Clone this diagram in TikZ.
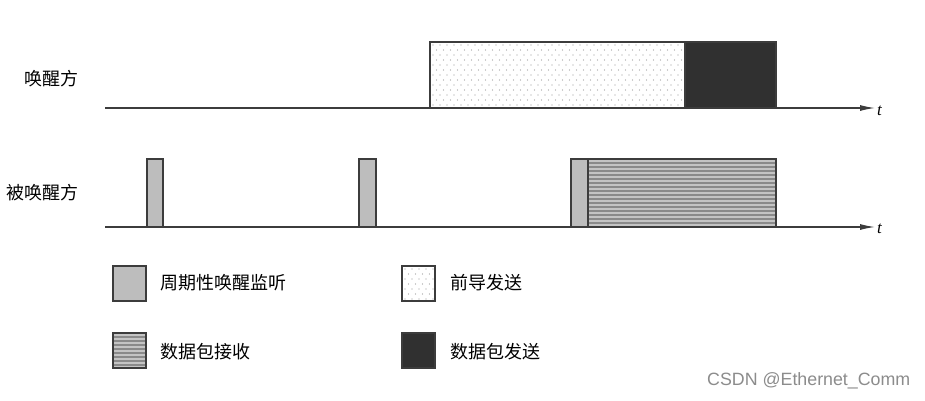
\documentclass[tikz,border=0pt]{standalone}
\usepackage{fontspec}
\setmainfont{Liberation Serif}
\newfontfamily\cjk{Noto Sans CJK SC}
\newfontfamily\wmfont{Liberation Sans}
\usetikzlibrary{arrows.meta}
\definecolor{edge}{HTML}{3C3C3C}
\definecolor{pulse}{HTML}{BDBDBD}
\definecolor{dark}{HTML}{303030}
\definecolor{stripebg}{HTML}{8A8A8A}
\definecolor{stripefg}{HTML}{C4C4C4}
\definecolor{dotc}{HTML}{9A9A9A}
\tikzset{
  box/.style={draw=edge, line width=1.6pt, inner sep=0pt, outer sep=0pt, anchor=north west},
  pulsebox/.style={box, fill=pulse},
  dotted fill/.style={fill=white, path picture={
      \foreach \r in {0,...,60}{
        \foreach \c in {0,...,40}{
          \pgfmathsetmacro{\xo}{mod(\r,2)*3.5}
          \fill[dotc] ([xshift=\c*7pt+\xo pt+3pt, yshift=-\r*5pt-3pt]path picture bounding box.north west) circle (0.6pt);
        }}}},
  striped fill/.style={fill=stripebg, path picture={
      \foreach \k in {0,...,50}
        \fill[stripefg] ([yshift=-\k*4pt-1pt]path picture bounding box.north west) rectangle ++(300pt,-1.7pt);
      }},
  preamblebox/.style={box, dotted fill},
  darkbox/.style={box, fill=dark},
  rxbox/.style={box, striped fill},
  axis/.style={line width=1.2pt, draw=edge, -{Latex[length=15pt,width=6pt]}},
  lbl/.style={font=\cjk\fontsize{18}{20}\selectfont, inner sep=0pt},
  tlbl/.style={font=\itshape\fontsize{17}{18}\selectfont, inner sep=0pt, anchor=west},
  legsq/.style={box, line width=2.4pt, minimum width=33pt, minimum height=35pt}
}
\begin{document}
\begin{tikzpicture}[x=1pt,y=-1pt]
\useasboundingbox[fill=white] (0,0) rectangle (925,400);
% axes
\coordinate (a0) at (105,108);
\coordinate (a1) at (875,108);
\coordinate (b0) at (105,227);
\coordinate (b1) at (875,227);
% waker row
\node[preamblebox, minimum width=255pt, minimum height=66pt] (pre) at (430,42) {};
\node[darkbox, minimum width=91pt, minimum height=66pt] (tx) at (685,42) {};
% wakee row
\node[pulsebox, minimum width=16pt, minimum height=68pt] (p1) at (147,159) {};
\node[pulsebox, minimum width=17pt, minimum height=68pt] (p2) at (359,159) {};
\node[rxbox, minimum width=188pt, minimum height=68pt] (rx) at (588,159) {};
\node[pulsebox, minimum width=17pt, minimum height=68pt] (p3) at (571,159) {};
\draw[axis] (a0) -- (a1);
\draw[axis] (b0) -- (b1);
\node[tlbl] (t1) at (877,111) {t};
\node[tlbl] (t2) at (877,229) {t};
% row labels
\node[lbl] (l1) at (51,79) {唤醒方};
\node[lbl] (l2) at (42,193) {被唤醒方};
% legend
\node[legsq, fill=pulse] (s1) at (113,266) {};
\node[legsq, dotted fill] (s2) at (402,266) {};
\node[legsq, striped fill] (s3) at (113,333) {};
\node[legsq, fill=dark] (s4) at (402,333) {};
\node[lbl, anchor=west] (g1) at (160,283) {周期性唤醒监听};
\node[lbl, anchor=west] (g2) at (450,283) {前导发送};
\node[lbl, anchor=west] (g3) at (160,352) {数据包接收};
\node[lbl, anchor=west] (g4) at (450,352) {数据包发送};
% watermark
\node[font=\wmfont\fontsize{17.8}{19}\selectfont, text=gray!90, inner sep=0pt, anchor=west] (wm) at (707,381) {CSDN @Ethernet\_Comm};
\end{tikzpicture}
\end{document}
